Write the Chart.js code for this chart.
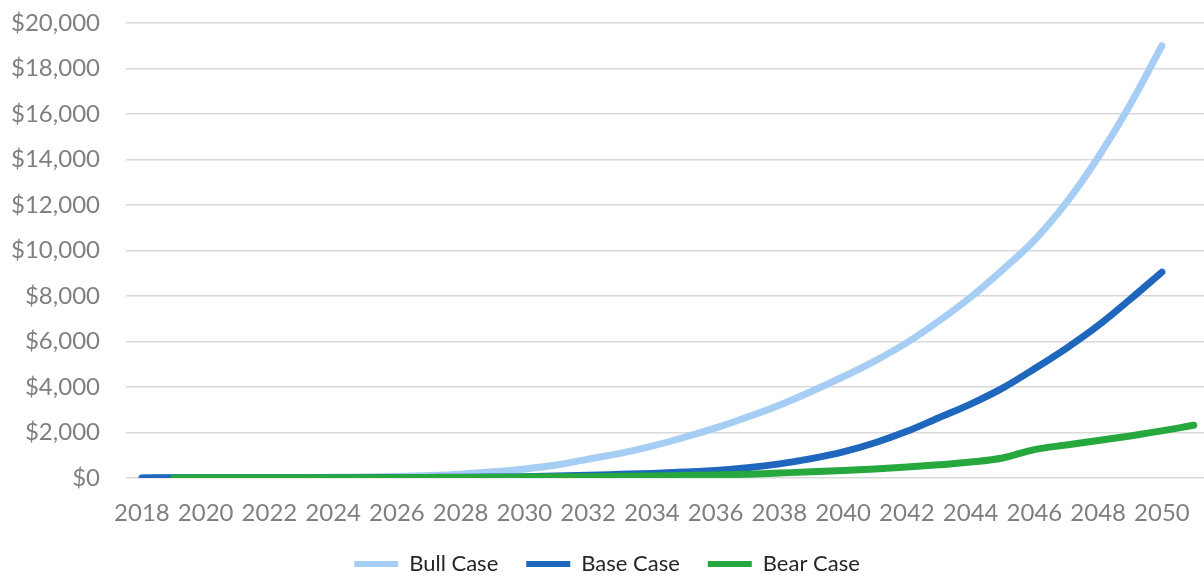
<!DOCTYPE html>
<html>
<head>
<meta charset="utf-8">
<script src="https://cdn.jsdelivr.net/npm/chart.js@4/dist/chart.umd.min.js"></script>
<style>
  body { margin: 0; background: #fff; }
  #wrap { width: 1204px; height: 576px; position: relative; }
</style>
</head>
<body>
<div id="wrap"><canvas id="chart"></canvas></div>
<script>
// years on the axis
const years = [2018, 2019, 2020, 2021, 2022, 2023, 2024, 2025, 2026, 2027, 2028, 2029, 2030,
  2031, 2032, 2033, 2034, 2035, 2036, 2037, 2038, 2039, 2040, 2041, 2042, 2043, 2044,
  2045, 2046, 2047, 2048, 2049, 2050, 2051];
const yearTicks = [2018, 2020, 2022, 2024, 2026, 2028, 2030, 2032, 2034, 2036, 2038, 2040,
  2042, 2044, 2046, 2048, 2050];

// values ($)
const bullCase = [5, 8, 10, 14, 18, 25, 35, 48, 70, 110, 170, 270, 400, 570, 830, 1080, 1400,
  1780, 2200, 2680, 3200, 3800, 4450, 5150, 5950, 6900, 7950, 9150, 10450, 12100, 14100,
  16400, 19000, null];
const baseCase = [5, 6, 7, 8, 10, 12, 15, 18, 22, 27, 33, 45, 60, 85, 120, 160, 200, 260,
  330, 450, 620, 850, 1150, 1550, 2050, 2650, 3250, 3950, 4800, 5700, 6700, 7850, 9050, null];
const bearCase = [null, 5, 6, 7, 8, 10, 12, 14, 16, 20, 25, 30, 40, 50, 60, 75, 90, 110, 130,
  170, 220, 270, 330, 400, 480, 580, 700, 880, 1250, 1450, 1650, 1850, 2070, 2320];

const toPoints = vals => years.map((x, i) => ({ x: x, y: vals[i] }));
const tickFont = { family: 'Lato', size: 24 };

// fixed legend height, and no clipping of the legend box
const legendFit = {
  id: 'legendFit',
  beforeInit(chart) {
    const lg = chart.legend;
    const fit = lg.fit;
    lg.fit = function () {
      fit.call(this);
      this.height = 51;
    };
    lg.draw = function () { this._draw(); };
  }
};

new Chart(document.getElementById('chart'), {
  type: 'line',
  data: {
    datasets: [
      { label: 'Bull Case', data: toPoints(bullCase), borderColor: '#a6cef5', backgroundColor: '#a6cef5', order: 3 },
      { label: 'Base Case', data: toPoints(baseCase), borderColor: '#1e67bd', backgroundColor: '#1e67bd', order: 2 },
      { label: 'Bear Case', data: toPoints(bearCase), borderColor: '#27a83f', backgroundColor: '#27a83f', order: 1 }
    ]
  },
  plugins: [legendFit],
  options: {
    responsive: true,
    maintainAspectRatio: false,
    animation: false,
    layout: { padding: { top: 23, left: 10, right: 0, bottom: 0 } },
    elements: {
      line: { borderWidth: 7, cubicInterpolationMode: 'monotone', borderCapStyle: 'round', borderJoinStyle: 'round' },
      point: { radius: 0 }
    },
    scales: {
      x: {
        type: 'linear',
        min: 2017.5, max: 2051.32,
        afterBuildTicks: s => { s.ticks = yearTicks.map(v => ({ value: v })); },
        afterFit: s => { s.height = 47; s.paddingLeft = 0; s.paddingRight = 0; },
        grid: { display: false, drawTicks: false },
        border: { display: false },
        ticks: {
          color: '#7f7f7f', font: tickFont, autoSkip: false, maxRotation: 0, padding: 21,
          callback: v => String(v)
        }
      },
      y: {
        min: 0, max: 20000,
        afterFit: s => { s.width = 116; s.paddingTop = 0; s.paddingBottom = 0; },
        grid: { color: '#d9d9d9', lineWidth: 1.5, drawTicks: false },
        border: { display: false },
        ticks: {
          stepSize: 2000, color: '#7f7f7f', font: tickFont, padding: 26,
          callback: v => '$' + v.toLocaleString('en-US')
        }
      }
    },
    plugins: {
      tooltip: { enabled: false },
      legend: {
        position: 'bottom',
        labels: {
          color: '#262626', font: { family: 'Lato', size: 22 },
          boxWidth: 44, boxHeight: 6, padding: 28,
          sort: (a, b) => a.datasetIndex - b.datasetIndex,
          generateLabels: chart => Chart.defaults.plugins.legend.labels.generateLabels(chart)
            .map(l => Object.assign(l, { lineWidth: 0 }))
        }
      }
    }
  }
});
</script>
</body>
</html>
